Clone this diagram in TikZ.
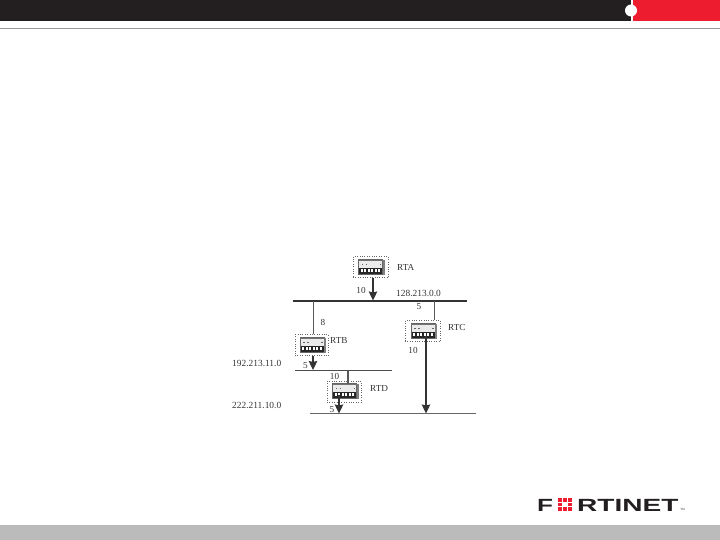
\documentclass[tikz,border=0pt]{standalone}
\usepackage{fontspec}
\setmainfont{Liberation Serif}
\newfontfamily\logofont{Liberation Sans}
\usepackage{xcolor}
\usetikzlibrary{arrows.meta, positioning}
\definecolor{barblack}{HTML}{231F20}
\definecolor{barred}{HTML}{ED1C2E}
\definecolor{rulegray}{HTML}{999999}
\definecolor{footgray}{HTML}{BBBBBB}
\definecolor{inkgray}{HTML}{333333}
\tikzset{
  rtbox/.style={draw=black!60, dotted, inner sep=0pt, minimum width=34pt, minimum height=21pt},
  rtname/.style={font=\fontsize{9.2}{10}\selectfont, text=inkgray, inner sep=0pt, anchor=west},
  netlabel/.style={font=\fontsize{9.4}{10}\selectfont, text=inkgray, inner sep=0pt, anchor=west},
  costlabel/.style={font=\fontsize{9.2}{10}\selectfont, text=inkgray, inner sep=0pt},
  busline/.style={line width=1.1pt, draw=black!80},
  thinlink/.style={line width=0.8pt, draw=black!65},
  costarrow/.style={-{Stealth[length=9pt,width=8.5pt,inset=1pt]}, line width=1.1pt, draw=black!80},
  logotext/.style={font=\logofont\bfseries\fontsize{18}{18}\selectfont, text=barblack, inner sep=0pt},
  routericon/.pic={
    \fill[black!8] (-13,-7.5) rectangle (13,7.5);
    \draw[black!60, line width=0.5pt] (-13,-7.5) rectangle (11,7.5);
    \fill[black!50] (11,-7.5) rectangle (13,7.5);
    \fill[black!55] (-13,-7.5) rectangle (11,-5.8);
    \fill[black!85] (-12.5,0.5) rectangle (10.5,6.5);
    \foreach \slot in {-11,-7.5,-4,-0.5,3,6.5}
      \fill[white] (\slot,1.5) rectangle ++(2.4,3.5);
    \foreach \slot in {-10,-6,8}
      \fill[black!60] (\slot,-3.5) rectangle ++(1.5,1.5);
  }
}

\begin{document}
\begin{tikzpicture}[x=1pt,y=-1pt]
  \useasboundingbox (0,0) rectangle (720,540);

  % Slide frame: header bar, rule and footer.
  \fill[barblack] (0,0) rectangle (631,21);
  \fill[barred] (633,0) rectangle (720,21);
  \fill[white] (631,10.5) circle (6);
  \draw[rulegray, line width=0.8pt] (0,28.3) -- (720,28.3);
  \fill[footgray] (0,525) rectangle (720,540);

  % Routers, with the dotted box as the node.
  \node[rtbox, minimum width=35pt] at (370.5,267) (rta) {};
  \node[rtbox, minimum width=33pt] at (311.5,345) (rtb) {};
  \node[rtbox, minimum width=35pt] at (422.5,331) (rtc) {};
  \node[rtbox, minimum width=34pt] at (344,391.5) (rtd) {};
  \pic at (371.5,267) {routericon};
  \pic at (313,345) {routericon};
  \pic at (424,331) {routericon};
  \pic at (345.5,391) {routericon};

  \node[rtname] at (397,267) (rtaname) {RTA};
  \node[rtname] at (330,340) (rtbname) {RTB};
  \node[rtname] at (448,327) (rtcname) {RTC};
  \node[rtname] at (370,388) (rtdname) {RTD};

  % Networks: ends and taps are named.
  \coordinate (neta) at (292.5,301);
  \coordinate (netaend) at (467,301);
  \coordinate (netb) at (295,370.5);
  \coordinate (netbend) at (392,370.5);
  \coordinate (netc) at (310,413.7);
  \coordinate (netcend) at (476,413.7);
  \draw[busline] (neta) -- (netaend);
  \draw[busline, draw=black!70] (netb) -- (netbend);
  \draw[busline, draw=black!60] (netc) -- (netcend);

  \coordinate (tapa) at (373,300.5);
  \coordinate (tapb) at (313,301);
  \coordinate (tapc) at (434,301);
  \coordinate (tapd) at (313,370);
  \coordinate (tape) at (348,370.5);
  \coordinate (tapf) at (339,413.5);
  \coordinate (tapg) at (426,413.5);
  \coordinate (rtgtop) at (348,384);
  \coordinate (rtffoot) at (339,395);
  \coordinate (rtgfoot) at (426,336);

  \draw[costarrow] (rta.south -| tapa) -- (tapa);
  \draw[thinlink] (tapb) -- (rtb.north -| tapb);
  \draw[costarrow] (rtb.south -| tapd) -- (tapd);
  \draw[thinlink] (tapc) -- (rtc.north -| tapc);
  \draw[costarrow] (rtgfoot) -- (tapg);
  \draw[thinlink, line width=1.1pt] (tape) -- (rtgtop);
  \draw[costarrow] (rtffoot) -- (tapf);

  \node[costlabel] at (361,290) (cost10a) {10};
  \node[costlabel] at (323,322) (cost8) {8};
  \node[costlabel] at (419,307) (cost5c) {5};
  \node[costlabel] at (413,350.5) (cost10c) {10};
  \node[costlabel] at (305.5,366) (cost5b) {5};
  \node[costlabel] at (334.5,376) (cost10d) {10};
  \node[costlabel] at (332,410) (cost5d) {5};

  \node[netlabel] at (396,293) (neta128) {128.213.0.0};
  \node[netlabel] at (232,363) (netb192) {192.213.11.0};
  \node[netlabel] at (232,405) (netc222) {222.211.10.0};

  % Logo: the O is a ring of red squares.
  \node[logotext, anchor=west] at (537,505) (logof) {\scalebox{1.45}[0.98]{F}};
  \foreach \i/\j in {0/0,1/0,2/0,0/1,2/1,0/2,1/2,2/2}
    \fill[barred] (557.5+5*\i,498+4.6*\j) rectangle ++(4.2,3.8);
  \node[logotext, anchor=west] at (577,505) (logorest) {\scalebox{1.56}[0.98]{RTINET}};
  \node[font=\fontsize{3}{3}\selectfont, text=inkgray, inner sep=0pt] at (682.5,510) (logotm) {TM};
\end{tikzpicture}
\end{document}
